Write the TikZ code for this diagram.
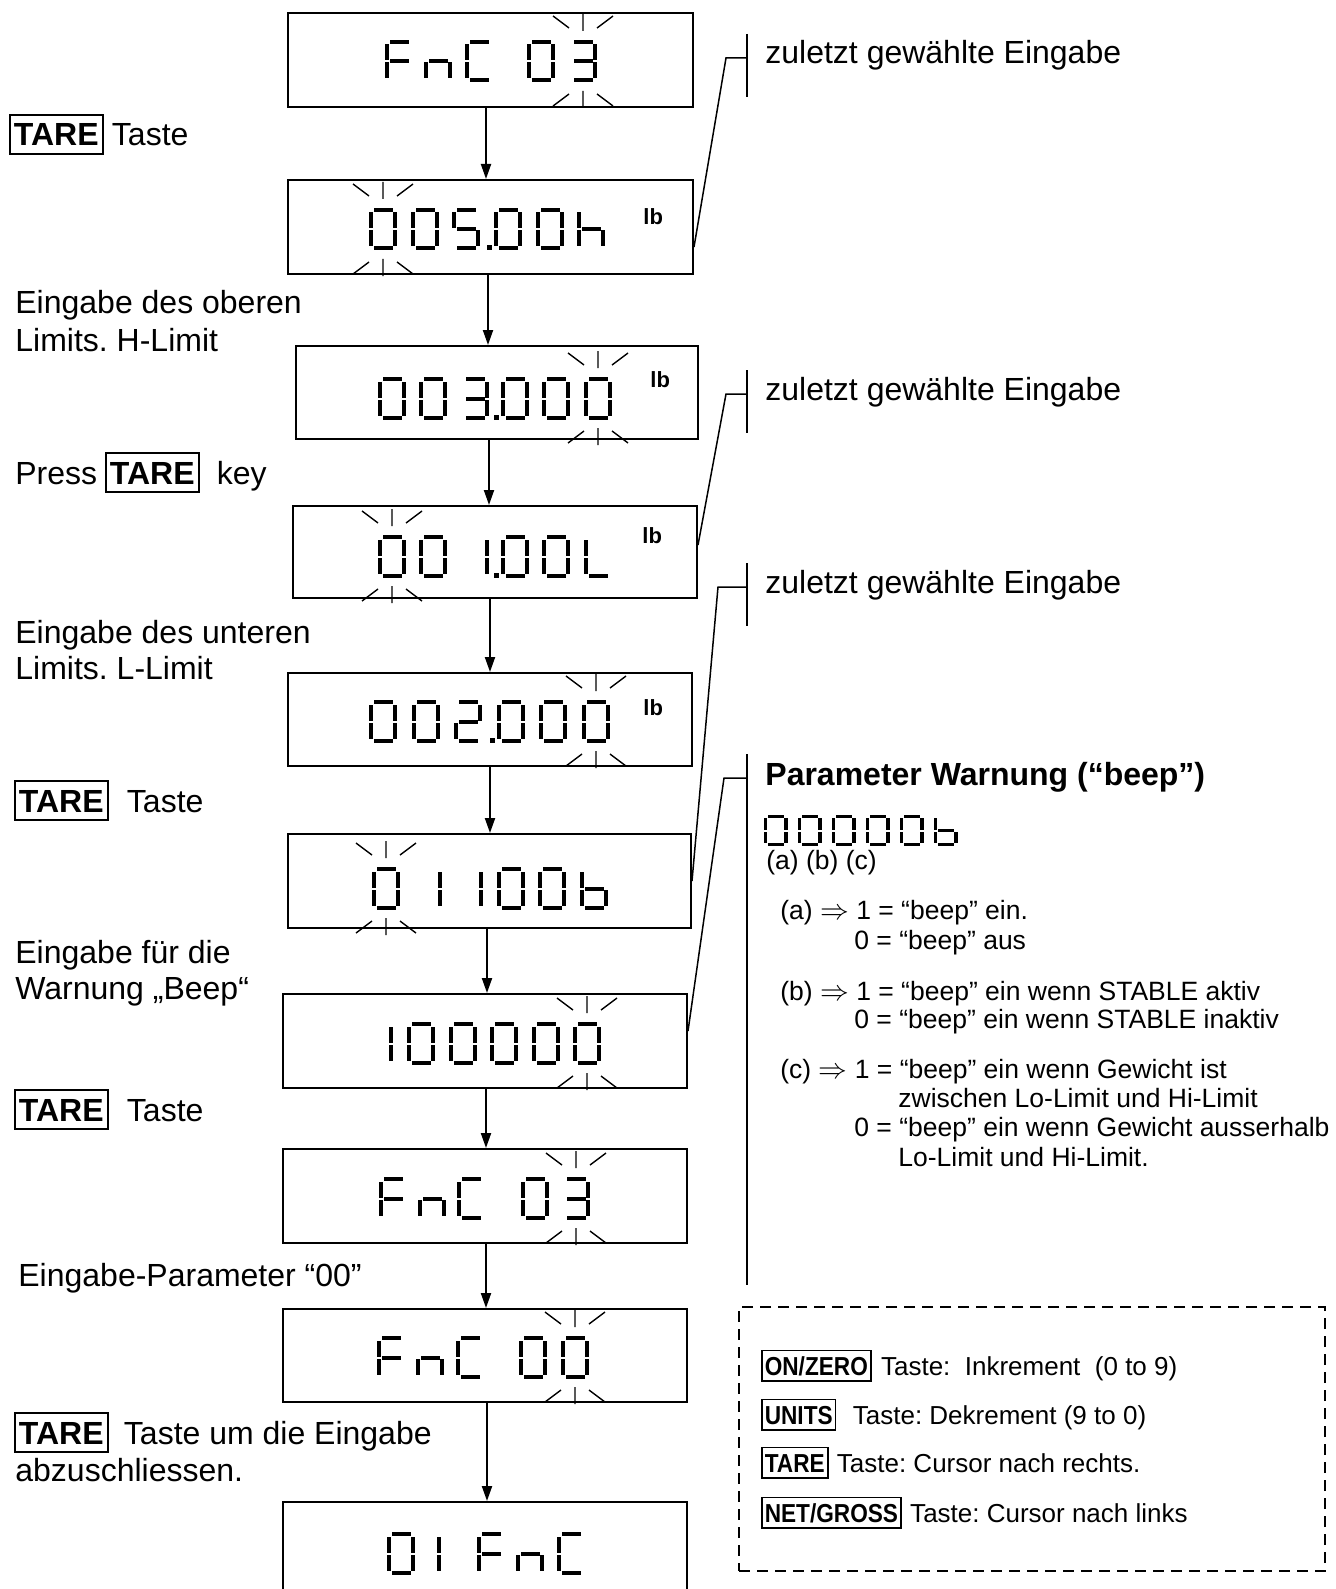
\documentclass[tikz,border=0pt]{standalone}
\usepackage{fontspec}
\setmainfont{Liberation Sans}
\newfontfamily\keyfont[FakeStretch=0.87]{Liberation Sans}
\usetikzlibrary{arrows.meta,fit}
\frenchspacing

% segments of one LCD cell (28 x 42.5, origin top left, y down)
\def\lcdsa{(4.5,0) rectangle (23.5,4)}
\def\lcdsb{(24,4.5) rectangle (28,20.5)}
\def\lcdsc{(24,22.5) rectangle (28,38.5)}
\def\lcdsd{(4.5,38.5) rectangle (23.5,42.5)}
\def\lcdse{(0,22.5) rectangle (4,38.5)}
\def\lcdsf{(0,4.5) rectangle (4,20.5)}
\def\lcdsg{(4.5,19.5) rectangle (23.5,23.5)}
% glyphs as lists of segments
\expandafter\def\csname lcdg0\endcsname{a,b,c,d,e,f}
\expandafter\def\csname lcdg1\endcsname{b,c}
\expandafter\def\csname lcdg2\endcsname{a,b,g,e,d}
\expandafter\def\csname lcdg3\endcsname{a,b,g,c,d}
\expandafter\def\csname lcdg5\endcsname{a,f,g,c,d}
\expandafter\def\csname lcdgF\endcsname{a,f,g,e}
\expandafter\def\csname lcdgn\endcsname{g,e,c}
\expandafter\def\csname lcdgC\endcsname{a,f,e,d}
\expandafter\def\csname lcdgh\endcsname{f,e,g,c}
\expandafter\def\csname lcdgL\endcsname{f,e,d}
\expandafter\def\csname lcdgb\endcsname{f,e,g,c,d}

\newcommand{\lcd}[3]{% #1,#2 = top left of the cell, #3 = glyph
  \edef\lcdlist{\csname lcdg#3\endcsname}%
  \foreach \s in \lcdlist {%
    \edef\lcdseg{\csname lcds\s\endcsname}%
    \fill[shift={(#1,#2)}] \lcdseg;}}

\newcommand{\blink}[3]{% #1 = centre x of the cell, #2 = its top, #3 = its bottom
  \draw[rays] ({#1-30},{#2-24}) -- ({#1-14},{#2-12})
              (#1,{#2-26}) -- (#1,{#2-9})
              ({#1+14},{#2-12}) -- ({#1+30},{#2-24})
              ({#1-30},{#3+24}) -- ({#1-14},{#3+12})
              (#1,{#3+9}) -- (#1,{#3+26})
              ({#1+14},{#3+12}) -- ({#1+30},{#3+24});}

\begin{document}
\begin{tikzpicture}[
  x=0.5pt,
  y=-0.5pt,
  every node/.style={font=\fontsize{16}{19}\selectfont, inner sep=0pt},
  lcdbox/.style={draw, line width=1pt, inner sep=0pt},
  flow/.style={line width=1pt, -{Triangle[length=7.5pt, width=5pt]}},
  rays/.style={line width=0.7pt},
  leader/.style={line width=0.75pt},
  txt/.style={anchor=base west},
  keybox/.style={draw, line width=0.9pt, anchor=base west,
                 font=\fontsize{16}{19}\selectfont\bfseries,
                 inner xsep=2pt, inner ysep=4pt, text height=11.5pt, text depth=0pt},
  unitlb/.style={anchor=base west, font=\fontsize{11}{13}\selectfont\bfseries},
  note/.style={anchor=base west, font=\fontsize{13.25}{15}\selectfont},
  legkey/.style={draw, line width=0.8pt, anchor=base west,
                 font=\fontsize{13}{15}\keyfont\bfseries,
                 inner xsep=1.5pt, inner ysep=3pt, text height=9.3pt, text depth=0pt},
  legtext/.style={anchor=base west, font=\fontsize{13}{15}\selectfont},
  legframe/.style={draw, line width=1.2pt, dash pattern=on 5.5pt off 3.5pt, inner sep=0pt}
]
  \useasboundingbox (0,0) rectangle (1335,1589);
  \clip (0,0) rectangle (1335,1589);

  % ---- display boxes ----
  \node[lcdbox, fit={(288,13) (693,107)}]   (d1) {};
  \node[lcdbox, fit={(288,180) (693,274)}]  (d2) {};
  \node[lcdbox, fit={(296,346) (698,439)}]  (d3) {};
  \node[lcdbox, fit={(293,506) (697,598)}]  (d4) {};
  \node[lcdbox, fit={(288,673) (692,766)}]  (d5) {};
  \node[lcdbox, fit={(288,834) (691,928)}]  (d6) {};
  \node[lcdbox, fit={(283,994) (687,1088)}] (d7) {};
  \node[lcdbox, fit={(283,1149) (687,1243)}] (d8) {};
  \node[lcdbox, fit={(283,1309) (687,1402)}] (d9) {};
  \node[lcdbox, fit={(283,1502) (687,1620)}] (d10) {};

  % ---- arrows between the displays ----
  \foreach \a/\b/\x in {d1/d2/486, d2/d3/488, d3/d4/489, d4/d5/490, d5/d6/490,
                        d6/d7/487, d7/d8/486, d8/d9/486, d9/d10/487} {
    \coordinate (ax) at (\x,0);
    \draw[flow] (\a.south -| ax) -- (\b.north -| ax);
  }

  % ---- digits ----
  \foreach \x/\c in {385/F, 424/n, 465/C, 527/0, 569/3} \lcd{\x}{40}{\c};
  \blink{583}{40}{82}
  \foreach \x/\c in {369/0, 411/0, 452/5, 494/0, 536/0, 577/h} \lcd{\x}{208}{\c};
  \fill (487,245.5) rectangle ++(5,5);
  \blink{383}{208}{250}
  \foreach \x/\c in {378/0, 419/0, 461/3, 501/0, 542/0, 584/0} \lcd{\x}{377}{\c};
  \fill (494,414.5) rectangle ++(5,5);
  \blink{598}{377}{419}
  \foreach \x/\c in {378/0, 419/0, 461/1, 501/0, 542/0, 584/L} \lcd{\x}{535}{\c};
  \fill (494,572.5) rectangle ++(5,5);
  \blink{392}{535}{577}
  \foreach \x/\c in {369/0, 412/0, 454/2, 497/0, 539/0, 582/0} \lcd{\x}{700}{\c};
  \fill (490,737.5) rectangle ++(5,5);
  \blink{596}{700}{742}
  \foreach \x/\c in {372/0, 414/1, 455/1, 497/0, 538/0, 580/b} \lcd{\x}{867}{\c};
  \blink{386}{867}{909}
  \foreach \x/\c in {365/1, 407/0, 449/0, 490/0, 532/0, 573/0} \lcd{\x}{1022}{\c};
  \blink{587}{1022}{1064}
  \foreach \x/\c in {379/F, 418/n, 457/C, 521/0, 562/3} \lcd{\x}{1177}{\c};
  \blink{576}{1177}{1219}
  \foreach \x/\c in {377/F, 416/n, 456/C, 519/0, 561/0} \lcd{\x}{1336}{\c};
  \blink{575}{1336}{1378}
  \foreach \x/\c in {387/0, 413/1, 477/F, 516/n, 557/C} \lcd{\x}{1532}{\c};

  % ---- units ----
  \node[unitlb] (u2) at (643,225) {lb};
  \node[unitlb] (u3) at (650,387) {lb};
  \node[unitlb] (u4) at (642,543) {lb};
  \node[unitlb] (u5) at (643,715) {lb};

  % ---- left column ----
  \node[keybox] (tk1) at (9,146) {TARE};
  \node[txt] (s1) at ([xshift=4pt]tk1.base east) {Taste};
  \node[txt] (s2) at (15,313) {Eingabe des oberen};
  \node[txt] (s3) at (15,351) {Limits. H-Limit};
  \node[txt] (s4) at (15,484) {Press};
  \node[keybox] (tk2) at (105,484) {TARE};
  \node[txt] (s5) at ([xshift=8.5pt]tk2.base east) {key};
  \node[txt] (s6) at (15,643) {Eingabe des unteren};
  \node[txt] (s7) at (15,679) {Limits. L-Limit};
  \node[keybox] (tk3) at (14,812) {TARE};
  \node[txt] (s8) at ([xshift=9pt]tk3.base east) {Taste};
  \node[txt] (s9) at (15,963) {Eingabe für die};
  \node[txt] (s10) at (15,999) {Warnung „Beep“};
  \node[keybox] (tk4) at (14,1121) {TARE};
  \node[txt] (s11) at ([xshift=9pt]tk4.base east) {Taste};
  \node[txt] (s12) at (18,1286) {Eingabe-Parameter “00”};
  \node[keybox] (tk5) at (14,1444) {TARE};
  \node[txt] (s13) at ([xshift=7.5pt]tk5.base east) {Taste um die Eingabe};
  \node[txt] (s14) at (15,1481) {abzuschliessen.};

  % ---- callouts on the right ----
  \node[txt] (z1) at (765,64) {zuletzt gewählte Eingabe};
  \node[txt] (z2) at (765,400) {zuletzt gewählte Eingabe};
  \node[txt] (z3) at (765,593) {zuletzt gewählte Eingabe};
  \node[txt, font=\fontsize{16}{19}\selectfont\bfseries] (pw) at (765,785)
    {Parameter Warnung (“beep”)};

  \coordinate (t1) at (747,58);
  \coordinate (t2) at (747,394);
  \coordinate (t3) at (747,587);
  \coordinate (t4) at (747,778);
  \draw[leader] ([yshift=12pt]t1) -- ([yshift=-19.5pt]t1);
  \draw[leader] ([yshift=12pt]t2) -- ([yshift=-19.5pt]t2);
  \draw[leader] ([yshift=12pt]t3) -- ([yshift=-19.5pt]t3);
  \draw[leader] ([yshift=12pt]t4) -- ([yshift=-253.5pt]t4);
  \draw[leader] ([yshift=-10pt]d2.east) -- (726,58) -- (t1);
  \draw[leader] ([yshift=3.5pt]d4.east) -- (726,394) -- (t2);
  \draw[leader] (d6.east) -- (718,587) -- (t3);
  \draw[leader] ([yshift=5pt]d7.east) -- (724,778) -- (t4);

  % ---- beep parameter ----
  \begin{scope}[shift={(764,815)}, xscale=0.85, yscale=0.74]
    \foreach \i/\c in {0/0, 1/0, 2/0, 3/0, 4/0, 5/b} \lcd{\i*40}{0}{\c};
  \end{scope}
  \node[note] (abc) at (766,869) {(a) (b) (c)};
  \node[note] (na1) at (780,919) {(a) $\Rightarrow$ 1 = “beep” ein.};
  \node[note] (na0) at (854,949) {0 = “beep” aus};
  \node[note] (nb1) at (780,1000) {(b) $\Rightarrow$ 1 = “beep” ein wenn STABLE aktiv};
  \node[note] (nb0) at (854,1028) {0 = “beep” ein wenn STABLE inaktiv};
  \node[note] (nc1) at (780,1078) {(c) $\Rightarrow$ 1 = “beep” ein wenn Gewicht ist};
  \node[note] (nc2) at (898,1107) {zwischen Lo-Limit und Hi-Limit};
  \node[note] (nc0) at (854,1136) {0 = “beep” ein wenn Gewicht ausserhalb};
  \node[note] (nc3) at (898,1166) {Lo-Limit und Hi-Limit.};

  % ---- key legend ----
  \node[legframe, fit={(739,1307) (1325,1571)}] (lg) {};
  \node[legkey] (k1) at (761,1375) {ON/ZERO};
  \node[legtext] (l1) at ([xshift=4.5pt]k1.base east) {Taste:\ \ Inkrement\ \ (0 to 9)};
  \node[legkey] (k2) at (761,1424) {UNITS};
  \node[legtext] (l2) at ([xshift=8pt]k2.base east) {Taste: Dekrement (9 to 0)};
  \node[legkey] (k3) at (761,1472) {TARE};
  \node[legtext] (l3) at ([xshift=4pt]k3.base east) {Taste: Cursor nach rechts.};
  \node[legkey] (k4) at (761,1522) {NET/GROSS};
  \node[legtext] (l4) at ([xshift=4pt]k4.base east) {Taste: Cursor nach links};
\end{tikzpicture}
\end{document}
